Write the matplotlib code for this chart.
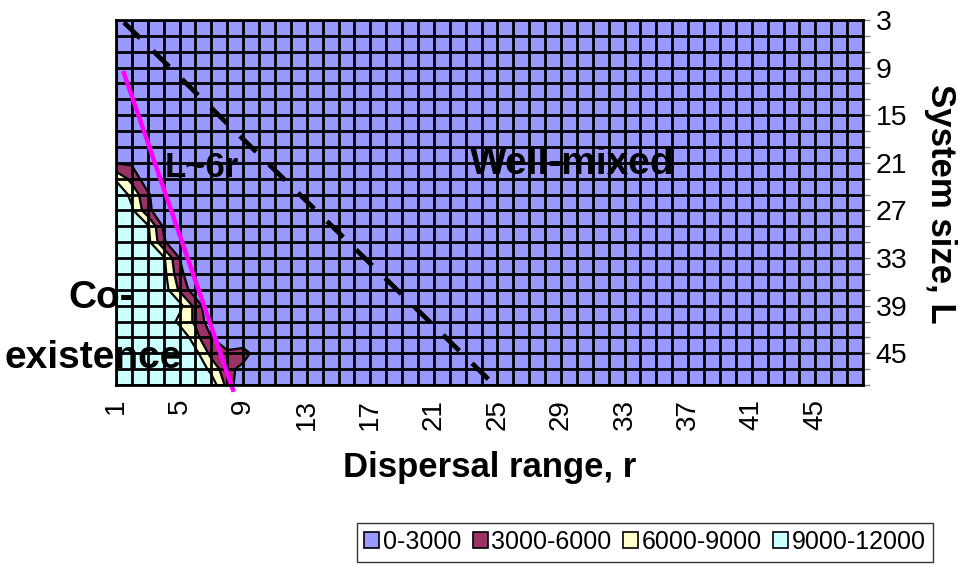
import matplotlib
matplotlib.use("Agg")
import matplotlib.pyplot as plt
import numpy as np
from matplotlib.patches import Patch

plt.rcParams['font.family'] = ['Liberation Sans', 'DejaVu Sans']

# ---------------- data ----------------
r_values = list(range(1, 49))                 # dispersal range r (categories)
L_values = list(range(3, 50, 2))              # system size L (series)
r_tick_labels = [1, 5, 9, 13, 17, 21, 25, 29, 33, 37, 41, 45]
L_tick_labels = [3, 9, 15, 21, 27, 33, 39, 45]

# values (in thousands) for r = 1..10, one row per L; cells with r > 10 are all 0
z_near = [
    [0, 0, 0, 0, 0, 0, 0, 0, 0, 0],          # L=3
    [0, 0, 0, 0, 0, 0, 0, 0, 0, 0],          # 5
    [0, 0, 0, 0, 0, 0, 0, 0, 0, 0],          # 7
    [0, 0, 0, 0, 0, 0, 0, 0, 0, 0],          # 9
    [0, 0, 0, 0, 0, 0, 0, 0, 0, 0],          # 11
    [0, 0, 0, 0, 0, 0, 0, 0, 0, 0],          # 13
    [0, 0, 0, 0, 0, 0, 0, 0, 0, 0],          # 15
    [0, 0, 0, 0, 0, 0, 0, 0, 0, 0],          # 17
    [0, 0, 0, 0, 0, 0, 0, 0, 0, 0],          # 19
    [2.8, 2.6, 0, 0, 0, 0, 0, 0, 0, 0],      # 21
    [8.5, 5, 1, 0, 0, 0, 0, 0, 0, 0],        # 23
    [12, 8, 3.5, 0, 0, 0, 0, 0, 0, 0],       # 25
    [12, 9.5, 4, 0, 0, 0, 0, 0, 0, 0],       # 27
    [12, 12, 9.5, 2.5, 0, 0, 0, 0, 0, 0],    # 29
    [12, 12, 10, 3.5, 0, 0, 0, 0, 0, 0],     # 31
    [12, 12, 12, 9.5, 3, 0, 0, 0, 0, 0],     # 33
    [12, 12, 12, 10, 4, 0, 0, 0, 0, 0],      # 35
    [12, 12, 12, 10.5, 5.5, 1, 0, 0, 0, 0],  # 37
    [12, 12, 12, 12, 10, 5, 0, 0, 0, 0],     # 39
    [12, 12, 12, 12, 8, 5.5, 1, 0, 0, 0],    # 41
    [12, 12, 12, 12, 12, 7, 3, 1, 0, 0],     # 43
    [12, 12, 12, 12, 12, 10, 5, 3.5, 4.5, 1],  # 45
    [12, 12, 12, 12, 12, 12, 8, 4, 2, 0],    # 47
    [12, 12, 12, 12, 12, 12, 11, 5, 0, 0],   # 49
]

levels = [0, 3000, 6000, 9000, 12000]
band_labels = ['0-3000', '3000-6000', '6000-9000', '9000-12000']
band_colors = ['#9999FF', '#993366', '#FFFFCC', '#CCFFFF']

# reference lines
steep_r = [1.5, 8.36]     # L ~ 6r
steep_L = [9.7, 49.6]
diag_r = [1.5, 24.8]      # dashed boundary
diag_L = [3.3, 49.0]

# ---------------- build grid ----------------
Z = np.zeros((len(L_values), len(r_values)))
Z[:, :len(z_near[0])] = np.array(z_near) * 1000.0

W, H = 958, 567
fig = plt.figure(figsize=(W / 100, H / 100), dpi=100)
ax = fig.add_axes([116 / W, 1 - 385 / H, (863 - 116) / W, (385 - 20) / H])

ax.contourf(r_values, L_values, Z, levels=levels, colors=band_colors, zorder=1)
ax.contour(r_values, L_values, Z, levels=levels[1:-1], colors='black',
           linewidths=1.6, zorder=2)

# cell grid
ax.vlines(r_values, L_values[0], L_values[-1], colors='black', linewidth=2.0, zorder=3)
ax.hlines(L_values, r_values[0], r_values[-1], colors='black', linewidth=2.0, zorder=3)

ax.set_xlim(r_values[0], r_values[-1])
ax.set_ylim(L_values[-1], L_values[0])

# lines
ax.plot(diag_r, diag_L, color='black', lw=3.4, dashes=(4.8, 3.8), zorder=5,
        solid_capstyle='butt', dash_capstyle='butt')
ax.plot(steep_r, steep_L, color='#FF00FF', lw=3.2, zorder=6, clip_on=False)

for s in ax.spines.values():
    s.set_linewidth(2)
    s.set_color('black')
    s.set_zorder(7)

# x axis
ax.set_xticks(r_tick_labels)
ax.set_xticklabels([str(v) for v in r_tick_labels], rotation=90, fontsize=20)
ax.tick_params(axis='x', length=0, pad=10)

# y axis on right
ax.yaxis.tick_right()
ax.set_yticks(L_values)
ax.set_yticklabels([str(v) if v in L_tick_labels else '' for v in L_values], fontsize=20.5)
ax.tick_params(axis='y', length=5, width=1, color='#888888', pad=4, direction='out')

# labels
fig.text(489.5 / W, 1 - 477 / H, 'Dispersal range, r', ha='center', va='baseline',
         fontsize=25, fontweight='bold')
fig.text(940 / W, 1 - 204 / H, 'System size, L', ha='center', va='center',
         rotation=270, fontsize=25, fontweight='bold')

# annotations
fig.text(470 / W, 1 - 174 / H, 'Well-mixed', ha='left', va='baseline',
         fontsize=28, fontweight='bold', zorder=10)
fig.text(165 / W, 1 - 177 / H, 'L~6r', ha='left', va='baseline',
         fontsize=25, fontweight='bold', zorder=10)
fig.text(68 / W, 1 - 308 / H, 'Co-', ha='left', va='baseline',
         fontsize=28, fontweight='bold', zorder=10)
fig.text(5 / W, 1 - 368 / H, 'existence', ha='left', va='baseline',
         fontsize=28, fontweight='bold', zorder=10)

# legend
handles = [Patch(facecolor=c, edgecolor='black', linewidth=1.2) for c in band_colors]
leg = fig.legend(handles, band_labels, loc='center', bbox_to_anchor=(645 / W, 1 - 542 / H),
                 ncol=4, fontsize=18, frameon=True, fancybox=False, shadow=False,
                 handlelength=0.6, handleheight=0.6, handletextpad=0.15,
                 columnspacing=0.45, borderpad=0.3, borderaxespad=0)
leg.get_frame().set_edgecolor('black')
leg.get_frame().set_linewidth(1.0)

fig.savefig('out.png', dpi=100)
